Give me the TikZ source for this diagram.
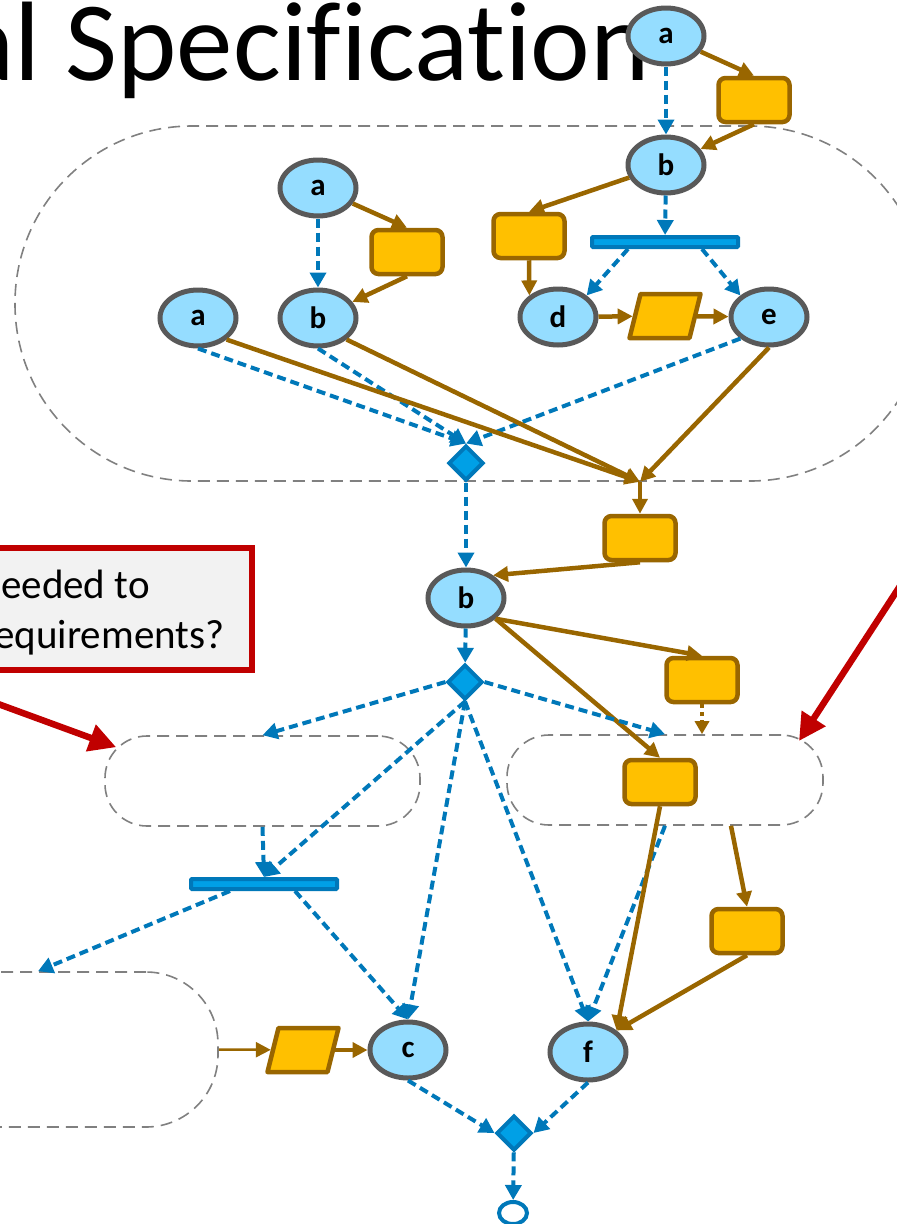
\documentclass[tikz,border=0pt]{standalone}
\usepackage{fontspec}
\setmainfont[Ligatures=NoCommon]{Carlito}
\usepackage{xcolor}
\usetikzlibrary{calc}
\usetikzlibrary{shapes.geometric}
\usetikzlibrary{arrows.meta}
\definecolor{nodeblue}{RGB}{149,221,255}
\definecolor{nodegray}{RGB}{89,89,89}
\definecolor{taskorange}{RGB}{255,192,0}
\definecolor{taskbrown}{RGB}{153,102,0}
\definecolor{flowblue}{RGB}{0,120,185}
\definecolor{gateblue}{RGB}{0,160,230}
\definecolor{poolgray}{RGB}{128,128,128}
\definecolor{callred}{RGB}{192,0,0}
\definecolor{callfill}{RGB}{242,242,242}

\begin{document}
\begin{tikzpicture}[x=1pt,y=-1pt,
	data/.style={ellipse,draw=nodegray,fill=nodeblue,line width=5pt,minimum width=76pt,minimum height=56pt,inner sep=0pt,font=\bfseries\fontsize{31}{31}\selectfont},
	task/.style={rectangle,rounded corners=7pt,draw=taskbrown,fill=taskorange,line width=4.5pt,minimum width=71pt,minimum height=44pt},
	dataobj/.style={rectangle,xslant=0.25,transform shape,draw=taskbrown,fill=taskorange,line width=4.5pt,line join=round,minimum width=60pt,minimum height=44pt,inner sep=0pt},
	bar/.style={rectangle,rounded corners=1pt,draw=flowblue,fill=gateblue,line width=4pt,minimum width=146pt,minimum height=10pt,inner sep=0pt},
	gate/.style={diamond,draw=flowblue,fill=gateblue,line width=4pt,minimum size=35pt,inner sep=0pt},
	endev/.style={ellipse,draw=flowblue,fill=white,line width=4pt,minimum width=28pt,minimum height=22pt,inner sep=0pt},
	pool/.style={rectangle,draw=poolgray,line width=1.6pt,dash pattern=on 12pt off 7pt,inner sep=0pt},
	callout/.style={rectangle,draw=callred,fill=callfill,line width=6.5pt,inner sep=0pt},
	asktext/.style={inner sep=0pt,font=\fontsize{41}{50}\selectfont},
	ctrl/.style={draw=flowblue,line width=4pt,dash pattern=on 9pt off 5pt,-{Triangle[length=15pt,width=16pt]}},
	obj/.style={draw=taskbrown,line width=4.5pt,-{Triangle[length=15pt,width=15pt]}},
	objdot/.style={draw=taskbrown,line width=4pt,dash pattern=on 4pt off 4pt,-{Triangle[length=13pt,width=14pt]}},
	hint/.style={draw=callred,line width=6.5pt,-{Triangle[length=27pt,width=27pt]}}]
\useasboundingbox (0,0) rectangle (897,1224);
\clip (0,0) rectangle (897,1224);
\node [anchor=base west,inner sep=0pt,font=\fontsize{113}{120}\selectfont] (title) at (-40,80) {al Specification};

% sub-process frames
\node [pool,minimum width=912pt,minimum height=355pt,rounded corners=177pt] (outer) at (471,303.5) {};
\node [pool,minimum width=315pt,minimum height=90pt,rounded corners=42pt] (lanel) at (262.5,781) {};
\node [pool,minimum width=316pt,minimum height=90pt,rounded corners=42pt] (laner) at (665,780) {};
\node [pool,minimum width=360pt,minimum height=155pt,rounded corners=72pt] (lanelow) at (38,1049.5) {};

% callout
\node [callout,minimum width=282pt,minimum height=122pt] (ask) at (111,609) {};
\node [asktext,anchor=base west] (ask1) at (1,598) {eeded to};
\node [asktext,anchor=base west] (ask2) at (-6,648) {equirements?};

% top right part
\node [data] (atop) at (666,36) {a};
\node [task] (tasktop) at (754,100) {};
\node [data] (btop) at (666,165) {b};
\node [task] (taskleft) at (529,236) {};
\node [bar] (forktop) at (665,242) {};
\node [data] (d) at (558,317) {d};
\begin{scope}[shift={(665,316)}]
\node [dataobj] (objde) at (0,0) {};
\end{scope}
\node [data] (e) at (769,317) {e};
% top left part
\node [data] (ain) at (318,188) {a};
\node [task] (taskin) at (407,252) {};
\node [data] (bin) at (318,318) {b};
\node [data] (aleft) at (198,318) {a};
\node [gate] (join) at (466,463) {};
% middle
\node [task] (taskmid) at (640,538) {};
\node [data] (bmid) at (466,598) {b};
\node [gate] (split) at (465,682) {};
\node [task] (taskright) at (702,680) {};
\node [task] (taskpool) at (660,782) {};
\node [bar] (forklow) at (264,884) {};
\node [task] (tasklow) at (747,931) {};
% bottom
\begin{scope}[shift={(303,1050)}]
\node [dataobj] (objc) at (0,0) {};
\end{scope}
\node [data] (c) at (408,1050) {c};
\node [data] (f) at (588,1052) {f};
\node [gate] (merge) at (514,1133) {};
\node [endev] (done) at (513,1213) {};

\coordinate (jn) at (outer.south -| taskmid);

\draw [ctrl] (atop) -- (btop);
\draw [obj] (atop) -- (tasktop.north);
\draw [obj] (tasktop.south) -- (btop);
\draw [obj] (btop) -- (taskleft.north);
\draw [ctrl] (btop) -- (forktop);
\draw [obj] (taskleft.south) -- (d.north west);
\draw [ctrl] ($(forktop.south)+(-37,0)$) -- (d.north east);
\draw [ctrl] ($(forktop.south)+(37,0)$) -- (e.north west);
\draw [obj] (d) -- (objde);
\draw [obj] (objde) -- (e);
\draw [ctrl] (ain) -- (bin);
\draw [obj] (ain) -- (taskin.north);
\draw [obj] (taskin.south) -- (bin);
\draw [ctrl] (aleft.south) -- (join.north);
\draw [ctrl] (bin.south) -- (join.north);
\draw [ctrl] (e.south west) -- (join.north);
\draw [obj] (aleft.south east) -- (jn);
\draw [obj] (bin.south east) -- (jn);
\draw [obj] (e.south) -- (jn);
\draw [obj] (jn) -- (taskmid);
\draw [ctrl] (join) -- (bmid);
\draw [obj] (taskmid.south) -- (bmid.40);
\draw [ctrl] (bmid) -- (split);
\draw [obj] (bmid.-35) -- (taskright.north);
\draw [obj] (bmid.-35) -- (taskpool.north);
\draw [objdot] (taskright.south) -- (taskright.south |- laner.north);
\draw [ctrl] (split.west) -- (lanel.north);
\draw [ctrl] (split.east) -- (laner.north);
\draw [ctrl] (split.south) -- (forklow.north);
\draw [ctrl] (split.south) -- (c.north);
\draw [ctrl] (split.south) -- (f.north);
\draw [ctrl] (lanel.south) -- (forklow.north);
\draw [ctrl] ($(forklow.south)+(-34,0)$) -- (lanelow.north);
\draw [ctrl] ($(forklow.south)+(31,0)$) -- (c.north);
\draw [ctrl] (laner.south) -- (f.north);
\draw [obj] (taskpool.south) -- (f.north east);
\draw [obj] ($(laner.south)+(66,0)$) -- (tasklow.north);
\draw [obj] (tasklow.south) -- (f.north east);
\draw [obj,line width=2.5pt] (lanelow.east) -- (objc);
\draw [obj] (objc) -- (c);
\draw [ctrl] (c.south) -- (merge.west);
\draw [ctrl] (f.south) -- (merge.east);
\draw [ctrl] (merge) -- (done);

% pointers from the callouts
\coordinate (lfrom) at (-40,690);
\coordinate (lto) at ($(lanel.north west)+(12,12)$);
\coordinate (rfrom) at (930,540);
\coordinate (rto) at (799,741);
\draw [hint] (lfrom) -- (lto);
\draw [hint] (rfrom) -- (rto);
\end{tikzpicture}
\end{document}
